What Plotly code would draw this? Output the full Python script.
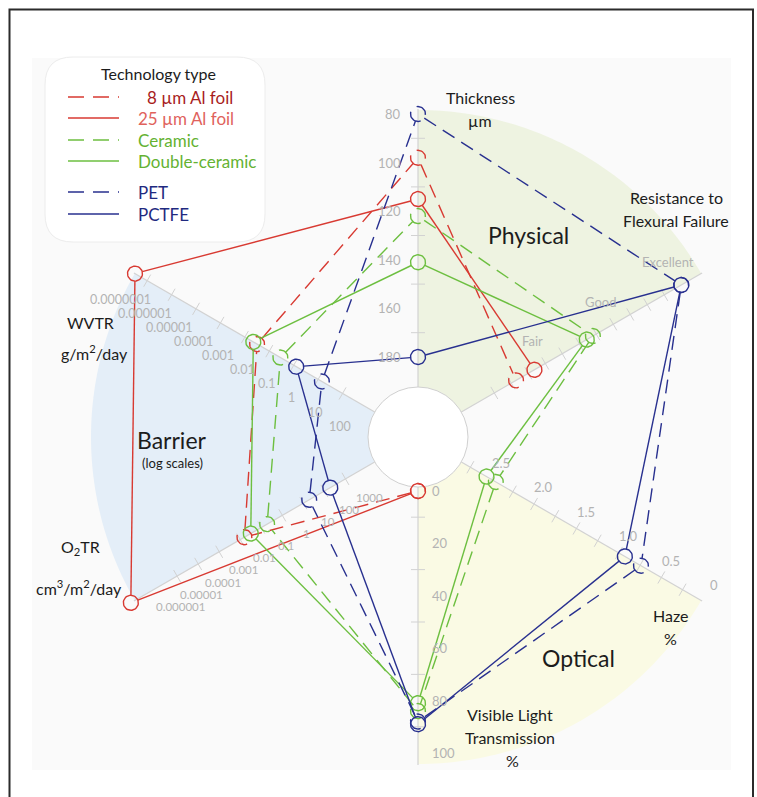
import math
import plotly.graph_objects as go

# ---------------- data ----------------
SERIES = ["8 µm Al foil", "25 µm Al foil", "Ceramic", "Double-ceramic", "PET", "PCTFE"]
WVTR = [0.01, 1e-7, 0.09, 0.007, 4.5, 0.4]          # g/m²/day (log)
THICKNESS = [98, 115, 122, 141, 80, 180]            # µm
FLEXURAL = [0.57, 0.84, 1.70, 1.61, 3.0, 3.0]       # 1 = Fair, 2 = Good, 3 = Excellent
HAZE = [None, None, 2.45, 2.56, 0.74, 0.93]         # %
VLT = [0, 0, 84, 81, 88, 89]                        # visible light transmission, %
O2TR = [0.005, 2e-8, 0.06, 0.01, 6, 60]             # cm³/m²/day (log)

THICKNESS_TICKS = [80, 100, 120, 140, 160, 180]
FLEX_TICKS = ["Fair", "Good", "Excellent"]
HAZE_TICKS = [0, 0.5, 1.0, 1.5, 2.0, 2.5]
VLT_TICKS = [0, 20, 40, 60, 80, 100]
WVTR_TICKS = [1e-7, 1e-6, 1e-5, 1e-4, 1e-3, 1e-2, 0.1, 1, 10, 100]
O2TR_TICKS = [1e-6, 1e-5, 1e-4, 1e-3, 1e-2, 0.1, 1, 10, 100, 1000]

# ---------------- styling ----------------
RED, GREEN, BLUE = "#d83a32", "#6dbf40", "#28308f"
LINE_COLORS = [RED, RED, GREEN, GREEN, BLUE, BLUE]
TEXT_COLORS = ["#a81d1d", "#e0625c", "#64b232", "#64b232", "#1f2a80", "#1f2a80"]
DASHED = [True, False, True, False, True, False]
DASH = "14px,8px"
FONT = "Lato"
TICK_GRAY = "#b3b3b3"

# ---------------- radial geometry ----------------
CX, CY = 418, 437
HUB_R = 50
AXIS_R = 328
SECTOR_R = 327
MARK_R = 7.5

AXES = {
    "wvtr": dict(angle=150, scale=lambda v: 73 + 28.2 * (2 - math.log10(v))),
    "thick": dict(angle=90, scale=lambda v: 80 + (180 - v) * 2.43),
    "flex": dict(angle=30, scale=lambda v: 147 + (v - 1) * 78.5),
    "haze": dict(angle=-30, scale=lambda v: 330 - 98 * v),
    "vlt": dict(angle=-90, scale=lambda v: 54 + 2.62 * v),
    "o2tr": dict(angle=210, scale=lambda v: 71.6 + 24.3 * (3 - math.log10(v))),
}
ORDER = ["wvtr", "thick", "flex", "haze", "vlt", "o2tr"]
VALUES = {"wvtr": WVTR, "thick": THICKNESS, "flex": FLEXURAL,
          "haze": HAZE, "vlt": VLT, "o2tr": O2TR}


def unit(axis):
    t = math.radians(AXES[axis]["angle"])
    return math.cos(t), -math.sin(t)


def at_radius(axis, r):
    ux, uy = unit(axis)
    return CX + r * ux, CY + r * uy


def pos(axis, v):
    return at_radius(axis, AXES[axis]["scale"](v))


def normal(axis, d):
    # screen offset of length d, perpendicular to the axis direction
    ux, uy = unit(axis)
    return -uy * d, ux * d


shapes = []
annotations = []

# page frame and panel
shapes.append(dict(type="rect", xref="x", yref="y", x0=32, y0=58, x1=731, y1=770,
                   fillcolor="#fafafa", line=dict(width=0), layer="below"))
shapes.append(dict(type="path", xref="x", yref="y",
                   path="M 9.5,820 L 9.5,9.5 L 753,9.5 L 753,820",
                   line=dict(color="#2b2b2b", width=2), layer="below"))


def sector(a0, a1, color):
    pts = [f"M {CX},{CY}"]
    n = 60
    for i in range(n + 1):
        a = math.radians(a0 + (a1 - a0) * i / n)
        pts.append(f"L {CX + SECTOR_R * math.cos(a):.2f},{CY - SECTOR_R * math.sin(a):.2f}")
    pts.append("Z")
    shapes.append(dict(type="path", xref="x", yref="y", path=" ".join(pts),
                       fillcolor=color, line=dict(width=0), layer="below"))


sector(30, 90, "#eef3e1")     # physical
sector(150, 210, "#e4eef8")   # barrier
sector(-90, -30, "#fafae4")   # optical

# axis lines
for ax in ORDER:
    x0, y0 = at_radius(ax, HUB_R)
    x1, y1 = at_radius(ax, AXIS_R)
    shapes.append(dict(type="line", xref="x", yref="y", x0=x0, y0=y0, x1=x1, y1=y1,
                       line=dict(color="#d2d2d2", width=1.2), layer="below"))


def tick(ax, r, half=7):
    x, y = at_radius(ax, r)
    dx, dy = normal(ax, half)
    shapes.append(dict(type="line", xref="x", yref="y", x0=x - dx, y0=y - dy,
                       x1=x + dx, y1=y + dy,
                       line=dict(color="#d2d2d2", width=1), layer="below"))


for a, b in zip(THICKNESS_TICKS[:-1], THICKNESS_TICKS[1:]):
    tick("thick", AXES["thick"]["scale"]((a + b) / 2))
for a, b in zip(VLT_TICKS[:-1], VLT_TICKS[1:]):
    tick("vlt", AXES["vlt"]["scale"]((a + b) / 2))
for a, b in zip(WVTR_TICKS[:-1], WVTR_TICKS[1:]):
    tick("wvtr", AXES["wvtr"]["scale"](math.sqrt(a * b)))
for a, b in zip(O2TR_TICKS[:-1], O2TR_TICKS[1:]):
    tick("o2tr", AXES["o2tr"]["scale"](math.sqrt(a * b)))
for k in range(1, 12):
    tick("flex", AXES["flex"]["scale"](k * 0.25))
    tick("haze", AXES["haze"]["scale"](k * 0.25))

# hub
shapes.append(dict(type="circle", xref="x", yref="y", x0=CX - HUB_R, y0=CY - HUB_R,
                   x1=CX + HUB_R, y1=CY + HUB_R, fillcolor="white",
                   line=dict(color="#d0d0d0", width=1), layer="below"))


# ---------------- tick labels ----------------
def label(x, y, text, xanchor="center", size=13, color=TICK_GRAY):
    annotations.append(dict(x=x, y=y, xref="x", yref="y", text=text, showarrow=False,
                            xanchor=xanchor, yanchor="middle",
                            font=dict(family=FONT, size=size, color=color)))


def fmt_log(v):
    return f"{v:.10f}".rstrip("0").rstrip(".") if v < 1 else str(int(v))


for v in THICKNESS_TICKS:
    _, y = pos("thick", v)
    label(403, y, str(v), xanchor="right")
for v in VLT_TICKS:
    _, y = pos("vlt", v)
    label(430, y, str(v), xanchor="left")
for i, name in enumerate(FLEX_TICKS):
    x, y = pos("flex", i + 1)
    dx, dy = normal("flex", -26)          # above the axis
    label(x + dx, y + dy, name)
for v in HAZE_TICKS:
    x, y = pos("haze", v)
    dx, dy = normal("haze", -19.5)        # above the axis
    label(x + dx, y + dy, "0" if v == 0 else f"{v:.1f}")
for v in WVTR_TICKS:
    x, y = pos("wvtr", v)
    dx, dy = normal("wvtr", -29.6)        # below the axis
    label(x + dx, y + dy, fmt_log(v), size=12.5)
for v in O2TR_TICKS:
    x, y = pos("o2tr", v)
    dx, dy = normal("o2tr", -28)          # below the axis
    label(x + dx, y + dy, fmt_log(v), size=11.5)

# ---------------- axis titles & group names ----------------
TITLE = "#1c1c1c"
for x, y, t in [(480, 97, "Thickness"), (480, 120, "µm"),
                (676, 197, "Resistance to"), (676, 220, "Flexural Failure"),
                (90, 322, "WVTR"), (94, 352, "g/m<sup>2</sup>/day"),
                (80, 547, "O<sub>2</sub>TR"), (79, 587, "cm<sup>3</sup>/m<sup>2</sup>/day"),
                (670, 615, "Haze"), (670, 638, "%"),
                (510, 714, "Visible Light"), (510, 737, "Transmission"), (512, 760, "%")]:
    label(x, y, t, size=16, color=TITLE)

label(528, 235, "Physical", size=23, color=TITLE)
label(172, 440, "Barrier", size=23, color=TITLE)
label(172, 463, "(log scales)", size=13, color=TITLE)
label(578, 658, "Optical", size=23, color=TITLE)

# ---------------- legend ----------------
lx0, ly0, lx1, ly1, rr = 45, 57, 265, 242, 28
box = (f"M {lx0 + rr},{ly0} L {lx1 - rr},{ly0} Q {lx1},{ly0} {lx1},{ly0 + rr} "
       f"L {lx1},{ly1 - rr} Q {lx1},{ly1} {lx1 - rr},{ly1} L {lx0 + rr},{ly1} "
       f"Q {lx0},{ly1} {lx0},{ly1 - rr} L {lx0},{ly0 + rr} Q {lx0},{ly0} {lx0 + rr},{ly0} Z")
shapes.append(dict(type="path", xref="x", yref="y", path=box, fillcolor="white",
                   line=dict(color="#ececec", width=1), layer="below"))
label(158, 73, "Technology type", size=16, color=TITLE)
legend_y = [97, 118, 140, 161, 192, 214]
for i, name in enumerate(SERIES):
    y = legend_y[i]
    shapes.append(dict(type="line", xref="x", yref="y", x0=68, y0=y, x1=119, y1=y,
                       line=dict(color=LINE_COLORS[i], width=1.6,
                                 dash="16px,9px" if DASHED[i] else "solid"),
                       layer="above"))
    label(145 if i == 0 else 136, y, name, xanchor="left", size=17, color=TEXT_COLORS[i])

# ---------------- series traces ----------------
fig = go.Figure()
for i, name in enumerate(SERIES):
    pts = []
    for ax in ORDER:
        v = VALUES[ax][i]
        pts.append(None if v is None else pos(ax, v))
    xs, ys = [], []
    # connecting segments, trimmed at the marker rims
    for k in range(len(pts)):
        p, q = pts[k], pts[(k + 1) % len(pts)]
        if p is None or q is None:
            continue
        dx, dy = q[0] - p[0], q[1] - p[1]
        d = math.hypot(dx, dy)
        if d <= 2 * MARK_R:
            continue
        ex, ey = dx / d, dy / d
        xs += [p[0] + ex * MARK_R, q[0] - ex * MARK_R, None]
        ys += [p[1] + ey * MARK_R, q[1] - ey * MARK_R, None]
    # open circle markers
    for p in pts:
        if p is None:
            continue
        for j in range(41):
            a = 2 * math.pi * j / 40 + math.pi / 2
            xs.append(p[0] + MARK_R * math.cos(a))
            ys.append(p[1] + MARK_R * math.sin(a))
        xs.append(None)
        ys.append(None)
    fig.add_trace(go.Scatter(x=xs, y=ys, mode="lines", name=name, hoverinfo="skip",
                             line=dict(color=LINE_COLORS[i], width=1.4,
                                       dash=DASH if DASHED[i] else "solid")))

fig.update_layout(
    width=757, height=797, margin=dict(l=0, r=0, t=0, b=0),
    paper_bgcolor="white", plot_bgcolor="white", showlegend=False,
    xaxis=dict(range=[0, 757], visible=False, fixedrange=True),
    yaxis=dict(range=[797, 0], visible=False, fixedrange=True),
    shapes=shapes, annotations=annotations,
)
fig.write_html("out.html")
